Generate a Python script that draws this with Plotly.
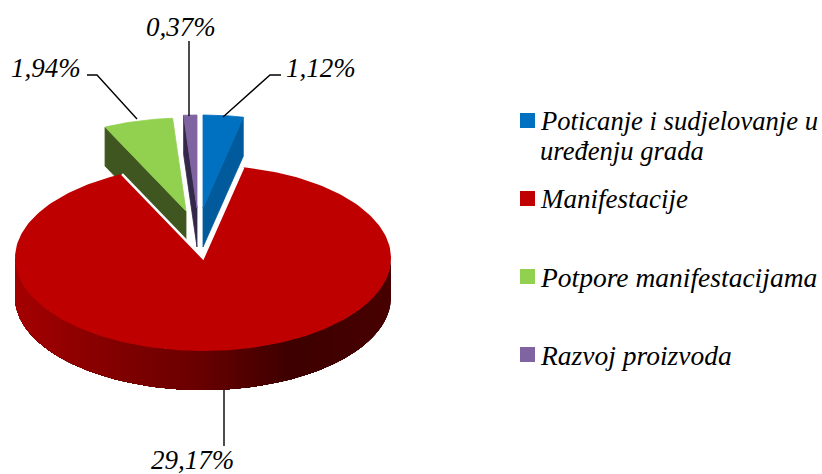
import numpy as np
import plotly.graph_objects as go

categories = ["Poticanje i sudjelovanje u<br>uređenju grada", "Manifestacije", "Potpore manifestacijama", "Razvoj proizvoda"]
values = [1.12, 29.17, 1.94, 0.37]
top_colors = ["#0070C0", "#BE0000", "#92D050", "#8064A2"]
swatch_colors = ["#0070C0", "#C00000", "#92D050", "#8064A2"]
face_colors = ["#015A9B", "#5A0000", "#3F5620", "#33284A"]
apexes = [(203, 208), (203, 258), (186, 211), (197, 208)]
label_pos = [(321, 68), (192, 460), (45.5, 68), (181, 27)]
leaders = [([223, 270, 281], [117, 75, 75]), ([224, 224], [390, 446]),
           ([137, 97, 87], [119, 75, 75]), ([189, 189], [116, 41])]
swatch_y = [120.5, 198.5, 276.5, 354.5]
legend_y = [[121, 151], [199], [277], [355]]
legend_size = [26.6, 27, 27.5, 27.5]
shade_x = [15, 100, 200, 290, 391]
shade_r = [165, 135, 105, 62, 72]
RX, RY, DEPTH = 188, 93, 39
FONT = "Liberation Serif"

fig = go.Figure()
def pts(t, c):
    t = np.radians(t)
    return c[0] + RX * np.sin(t), c[1] - RY * np.cos(t)
def poly(x, y, color, w=0.8):
    fig.add_trace(go.Scatter(x=list(x), y=list(y), mode="lines", fill="toself", fillcolor=color,
                             line=dict(color=color, width=w), hoverinfo="skip", showlegend=False))

edges = np.concatenate([[0], np.cumsum(values)]) / sum(values) * 360
# Back slices: purple, green, blue; then red in front
for i, face_end in [(3, 0), (2, 0), (0, 1)]:
    a, b = edges[i], edges[i + 1]
    c = apexes[i]
    ex, ey = pts(b if face_end else a, c)
    poly([ex, ex, c[0], c[0], ex], [ey, ey + DEPTH, c[1] + DEPTH, c[1], ey], face_colors[i])
    th = np.linspace(a, b, 30)
    x, y = pts(th, c)
    poly([c[0], *x, c[0]], [c[1], *y, c[1]], top_colors[i])

# Red slice wall, shaded band by band along the rim (each band runs on to the far end
# so that no seams show)
c = apexes[1]
n = 70
th = np.linspace(90, 270, n + 1)
x, y = pts(th, c)
for k in range(n):
    shade = int(np.interp((x[k] + x[k + 1]) / 2, shade_x, shade_r))
    col = f"rgb({shade},0,0)"
    xs, ys = x[k:], y[k:]
    poly([*xs, *xs[::-1], xs[0]], [*ys, *(ys[::-1] + DEPTH), ys[0]], col, w=0)

a, b = edges[1], edges[2]
th = np.linspace(a, b, 240)
x, y = pts(th, c)
poly([c[0], *x, c[0]], [c[1], *y, c[1]], top_colors[1], w=0)
# White separators along the cut edges of the red slice
fig.add_trace(go.Scatter(x=[x[0], c[0], x[-1]], y=[y[0], c[1], y[-1]], mode="lines",
                         line=dict(color="white", width=2.5), hoverinfo="skip", showlegend=False))

# Leader lines
for lx, ly in leaders:
    fig.add_trace(go.Scatter(x=lx, y=ly, mode="lines", line=dict(color="black", width=1.4),
                             hoverinfo="skip", showlegend=False))

# Data labels
labels = [f"{v:.2f}".replace(".", ",") + "%" for v in values]
for text, (lx, ly) in zip(labels, label_pos):
    fig.add_annotation(x=lx, y=ly, text=f"<i>{text}</i>", showarrow=False, xanchor="center", yanchor="middle",
                       font=dict(family=FONT, size=27, color="black"))

# Legend
fig.add_trace(go.Scatter(x=[527.5] * 4, y=swatch_y, mode="markers",
                         marker=dict(symbol="square", size=15, color=swatch_colors, line=dict(width=0)),
                         hoverinfo="skip", showlegend=False))
for text, ys, size in zip(categories, legend_y, legend_size):
    for part, ly in zip(text.split("<br>"), ys):
        fig.add_annotation(x=538, y=ly, text=f"<i>{part}</i>", showarrow=False, xanchor="left", yanchor="middle",
                           align="left", font=dict(family=FONT, size=size, color="black"))

fig.update_layout(width=822, height=474, margin=dict(l=0, r=0, t=0, b=0), paper_bgcolor="white",
                  plot_bgcolor="white",
                  xaxis=dict(range=[0, 822], visible=False, fixedrange=True),
                  yaxis=dict(range=[474, 0], visible=False, fixedrange=True))
fig.write_html("out.html", config={"displayModeBar": False},
               post_script="document.body.style.margin='0';")
